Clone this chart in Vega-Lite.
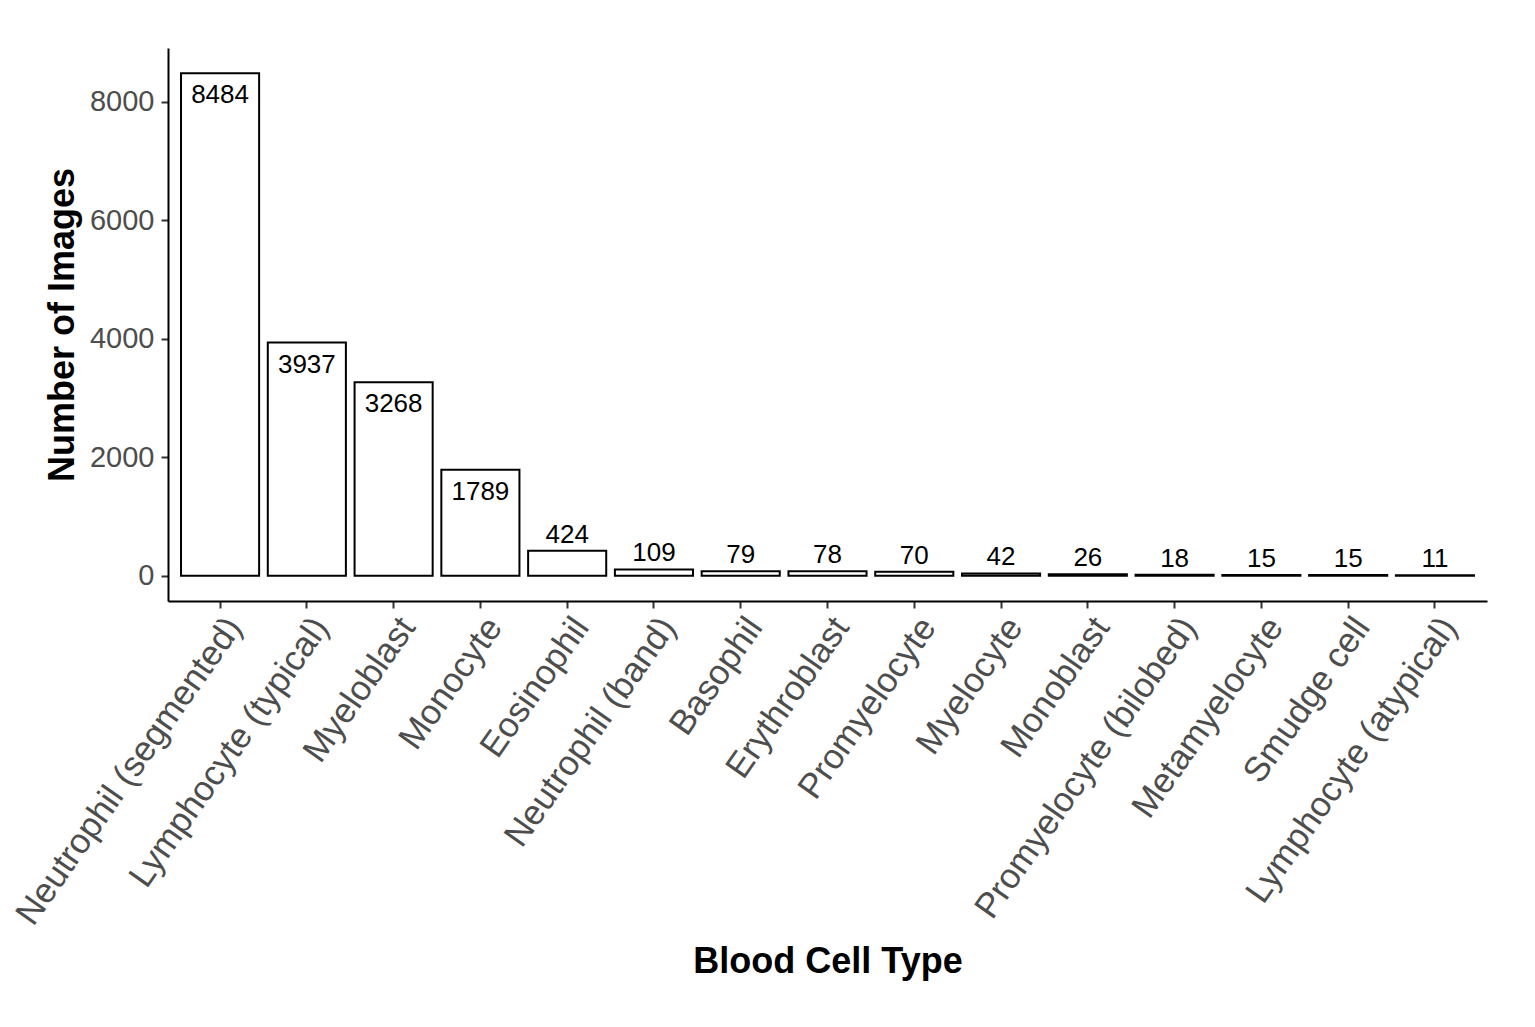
{
  "$schema": "https://vega.github.io/schema/vega-lite/v6.json",
  "width": 1319,
  "height": 553,
  "autosize": {"type": "none"},
  "padding": {"left": 168, "top": 48, "right": 48, "bottom": 426},
  "background": "white",
  "config": {
    "view": {"stroke": null},
    "font": "Liberation Sans",
    "axis": {"grid": false, "domainColor": "black", "domainWidth": 2, "tickColor": "#333333", "tickWidth": 2, "tickSize": 7, "labelColor": "#4d4d4d", "labelFont": "Liberation Sans", "titleFont": "Liberation Sans", "titleColor": "black", "titleFontWeight": "bold", "labelLimit": 0}
  },
  "data": {
    "values": [
      {"type": "Neutrophil (segmented)", "count": 8484},
      {"type": "Lymphocyte (typical)", "count": 3937},
      {"type": "Myeloblast", "count": 3268},
      {"type": "Monocyte", "count": 1789},
      {"type": "Eosinophil", "count": 424},
      {"type": "Neutrophil (band)", "count": 109},
      {"type": "Basophil", "count": 79},
      {"type": "Erythroblast", "count": 78},
      {"type": "Promyelocyte", "count": 70},
      {"type": "Myelocyte", "count": 42},
      {"type": "Monoblast", "count": 26},
      {"type": "Promyelocyte (bilobed)", "count": 18},
      {"type": "Metamyelocyte", "count": 15},
      {"type": "Smudge cell", "count": 15},
      {"type": "Lymphocyte (atypical)", "count": 11}
    ]
  },
  "encoding": {
    "x": {"field": "type", "type": "nominal", "sort": null,
      "scale": {"paddingInner": 0.1, "paddingOuter": 0.15},
      "axis": {"title": "Blood Cell Type", "titleFontSize": 36, "titlePadding": 143, "labelFontSize": 35, "labelAngle": -55, "labelAlign": "right", "labelBaseline": "top", "labelPadding": 3}},
    "y": {"field": "count", "type": "quantitative",
      "scale": {"domain": [-424, 8908], "nice": false, "zero": false},
      "axis": {"title": "Number of Images", "titleFontSize": 36, "titlePadding": 8, "labelFontSize": 29, "values": [0, 2000, 4000, 6000, 8000], "format": "d", "labelPadding": 7}}
  },
  "layer": [
    {"mark": {"type": "bar", "fill": "white", "stroke": "black", "strokeWidth": 2}, "encoding": {"y2": {"datum": 0}}},
    {"transform": [{"filter": "datum.count > 1000"}],
      "mark": {"type": "text", "fontSize": 26, "baseline": "top", "dy": 9, "color": "black"},
      "encoding": {"text": {"field": "count", "type": "quantitative"}}},
    {"transform": [{"filter": "datum.count <= 1000"}],
      "mark": {"type": "text", "fontSize": 26, "baseline": "alphabetic", "dy": -8, "color": "black"},
      "encoding": {"text": {"field": "count", "type": "quantitative"}}}
  ]
}
